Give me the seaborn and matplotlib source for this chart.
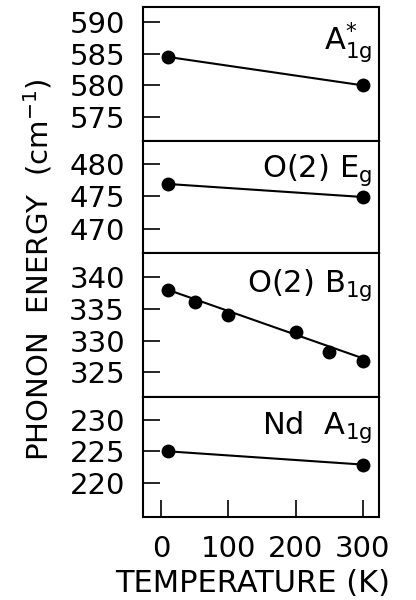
import numpy as np
import pandas as pd
import matplotlib
matplotlib.use('Agg')
import matplotlib.pyplot as plt
import seaborn as sns

# data
temp_a1g_star = [10, 300]
energy_a1g_star = [584.5, 580.0]

temp_eg = [10, 300]
energy_eg = [476.9, 474.9]

temp_b1g = [10, 50, 100, 200, 250, 300]
energy_b1g = [338.0, 336.0, 334.0, 331.3, 328.2, 326.8]
fit_temp_b1g = [10, 300]
fit_energy_b1g = [338.0, 327.2]

temp_nd = [10, 300]
energy_nd = [225.0, 222.9]

panel_labels = [r'$\mathregular{A^{*}_{1g}}$', r'$\mathregular{O(2)\ E_{g}}$',
                r'$\mathregular{O(2)\ B_{1g}}$', r'$\mathregular{Nd\ \ A_{1g}}$']
panel_yticks = [[575, 580, 585, 590], [470, 475, 480],
                [325, 330, 335, 340], [220, 225, 230]]
panel_ylims = [(571.2, 592.4), (466.3, 483.5), (321.1, 343.8), (214.6, 233.6)]
x_ticks = [0, 100, 200, 300]

sns.set_theme(style='ticks')
plt.rcParams['font.family'] = ['DejaVu Sans']
plt.rcParams.update({'text.color': 'black', 'axes.labelcolor': 'black',
                     'xtick.color': 'black', 'ytick.color': 'black'})

fig = plt.figure(figsize=(4.16, 6.0), dpi=100)

# panel boxes in pixels from the top: 7-141, 141-253, 253-397, 397-517
bounds = [(7, 141), (141, 253), (253, 397), (397, 517)]
left, width = 143 / 416, (379 - 143) / 416

panels = [
    (temp_a1g_star, energy_a1g_star, temp_a1g_star, energy_a1g_star),
    (temp_eg, energy_eg, temp_eg, energy_eg),
    (temp_b1g, energy_b1g, fit_temp_b1g, fit_energy_b1g),
    (temp_nd, energy_nd, temp_nd, energy_nd),
]

for i, (top, bot) in enumerate(bounds):
    ax = fig.add_axes([left, 1 - bot / 600, width, (bot - top) / 600])
    pts_t, pts_e, line_t, line_e = panels[i]
    line_df = pd.DataFrame({'T': line_t, 'E': line_e})
    pts_df = pd.DataFrame({'T': pts_t, 'E': pts_e})
    sns.lineplot(data=line_df, x='T', y='E', ax=ax, color='black', linewidth=1.5)
    sns.scatterplot(data=pts_df, x='T', y='E', ax=ax, color='black', s=100,
                    edgecolor='black', linewidth=0, zorder=3)

    ax.set_xlim(-27, 324)
    ax.set_ylim(*panel_ylims[i])
    ax.set_yticks(panel_yticks[i])
    ax.set_xlabel('')
    ax.set_ylabel('')
    ax.tick_params(axis='y', direction='in', length=12, width=1.2, pad=13,
                   labelsize=21, left=True, right=False)
    if i < 3:
        ax.tick_params(axis='x', bottom=False, labelbottom=False)
    else:
        ax.set_xticks(x_ticks)
        ax.tick_params(axis='x', direction='in', length=12, width=1.2, pad=13,
                       labelsize=21, bottom=True, top=False)
    for sp in ax.spines.values():
        sp.set_linewidth(1.5)
        sp.set_color('black')
        sp.set_visible(True)
    ax.text(0.97, 0.9, panel_labels[i], transform=ax.transAxes, ha='right',
            va='top', fontsize=22)

fig.text(0.091, 0.55, r'PHONON  ENERGY  (cm$^{-1}$)', rotation=90,
         ha='center', va='center', fontsize=21)
fig.text(0.608, 0.028, 'TEMPERATURE (K)', ha='center', va='center', fontsize=22)

fig.savefig('out.png', dpi=100, facecolor='white')
